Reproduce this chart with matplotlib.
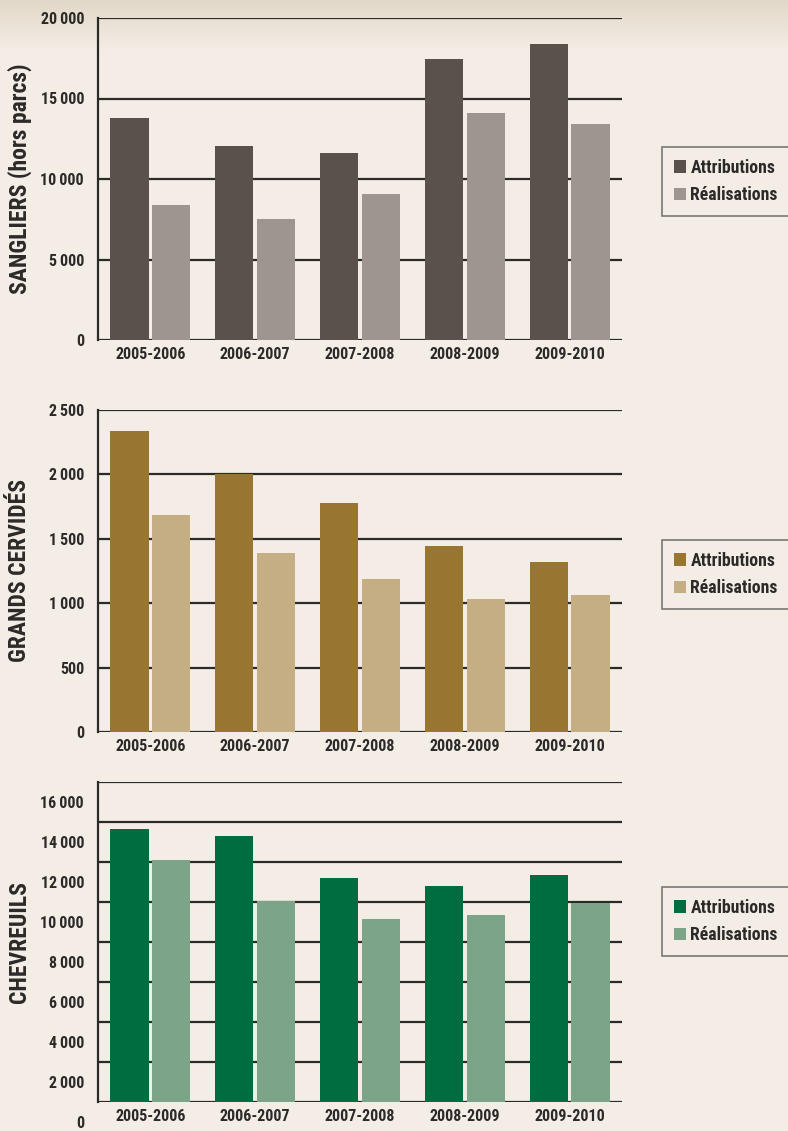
import numpy as np
import matplotlib
matplotlib.use("Agg")
import matplotlib.pyplot as plt
import matplotlib.transforms as mtransforms

# ---- data ----
seasons = ["2005-2006", "2006-2007", "2007-2008", "2008-2009", "2009-2010"]

sangliers_attr = [13800, 12050, 11600, 17450, 18400]
sangliers_real = [8400, 7500, 9050, 14100, 13400]

cervides_attr = [2335, 2000, 1775, 1445, 1320]
cervides_real = [1685, 1390, 1190, 1035, 1065]

chevreuils_attr = [13650, 13300, 11200, 10800, 11350]
chevreuils_real = [12100, 10050, 9150, 9350, 9950]

legend_labels = ["Attributions", "Réalisations"]

# ---- style ----
BG = "#f3ede6"
INK = "#2b2a29"
FONT = ["Roboto Condensed", "Roboto", "DejaVu Sans"]
plt.rcParams["font.family"] = FONT
plt.rcParams["font.weight"] = "bold"

W, H = 788, 1131
fig = plt.figure(figsize=(W / 100, H / 100), dpi=100, facecolor=BG)

# faint band at the top (photo strip in the original)
band = fig.add_axes([0, 1 - 50 / H, 1, 50 / H], zorder=-5)
grad = np.linspace(0, 1, 50)[:, None] * np.ones((1, 10))
band.imshow(grad, aspect="auto", cmap=matplotlib.colors.LinearSegmentedColormap.from_list(
    "b", ["#e2d8c8", BG]), extent=[0, 1, 0, 1])
band.axis("off")


def fmt(v):
    return f"{int(v):,}".replace(",", "\u2009")


def panel(top_px, bot_px, attr, real, c_attr, c_real, ymax, step, ylabel,
          leg_top_px, label_shift=0):
    left, right = 98, 622
    ax = fig.add_axes([left / W, 1 - bot_px / H, (right - left) / W, (bot_px - top_px) / H])
    ax.set_facecolor("none")
    x = np.arange(len(seasons))
    ax.bar(x - 0.2, attr, width=0.365, color=c_attr, label=legend_labels[0], zorder=3)
    ax.bar(x + 0.2, real, width=0.365, color=c_real, label=legend_labels[1], zorder=3)
    ax.set_xlim(-0.5, len(seasons) - 0.5)
    ax.set_ylim(0, ymax)
    ticks = np.arange(0, ymax + 1, step)
    ax.set_yticks(ticks)
    ax.set_yticklabels([fmt(t) for t in ticks])
    ax.set_xticks(x)
    ax.set_xticklabels(seasons)
    ax.yaxis.grid(True, color=INK, linewidth=1.6, zorder=1)
    ax.set_axisbelow(True)
    for s in ["top", "right", "bottom"]:
        ax.spines[s].set_visible(False)
    ax.spines["left"].set_color(INK)
    ax.spines["left"].set_linewidth(1.6)
    ax.tick_params(axis="both", length=0, labelsize=11.5, labelcolor=INK)
    ax.tick_params(axis="y", pad=10)
    ax.tick_params(axis="x", pad=5)
    if label_shift:
        off = mtransforms.ScaledTranslation(0, -label_shift / 100, fig.dpi_scale_trans)
        for lab in ax.get_yticklabels():
            lab.set_transform(lab.get_transform() + off)
    fig.text(20 / W, 1 - (top_px + bot_px) / 2 / H, ylabel, rotation=90,
             ha="center", va="center", fontsize=17, fontweight="bold", color=INK)
    leg = fig.legend(handles=ax.patches[:1] + ax.patches[len(seasons):len(seasons) + 1],
                     labels=legend_labels, loc="upper left",
                     bbox_to_anchor=(662 / W, 1 - leg_top_px / H),
                     frameon=True, fancybox=False, fontsize=12.8,
                     handlelength=0.7, handleheight=0.7, handletextpad=0.25,
                     borderpad=0.65, labelspacing=0.55, borderaxespad=0)
    leg.get_frame().set_edgecolor("#5a5a5a")
    leg.get_frame().set_facecolor(BG)
    leg.get_frame().set_linewidth(1.2)
    for t in leg.get_texts():
        t.set_color(INK)
    return ax


panel(18, 340, sangliers_attr, sangliers_real, "#5b514b", "#9e9590",
      20000, 5000, "SANGLIERS (hors parcs)", 147)
panel(410, 732, cervides_attr, cervides_real, "#98762f", "#c5ae84",
      2500, 500, "GRANDS CERVIDÉS", 540)
panel(782, 1102, chevreuils_attr, chevreuils_real, "#006d3f", "#7ca489",
      16000, 2000, "CHEVREUILS", 887, label_shift=20)

fig.savefig("out.png", dpi=100, facecolor=BG)
